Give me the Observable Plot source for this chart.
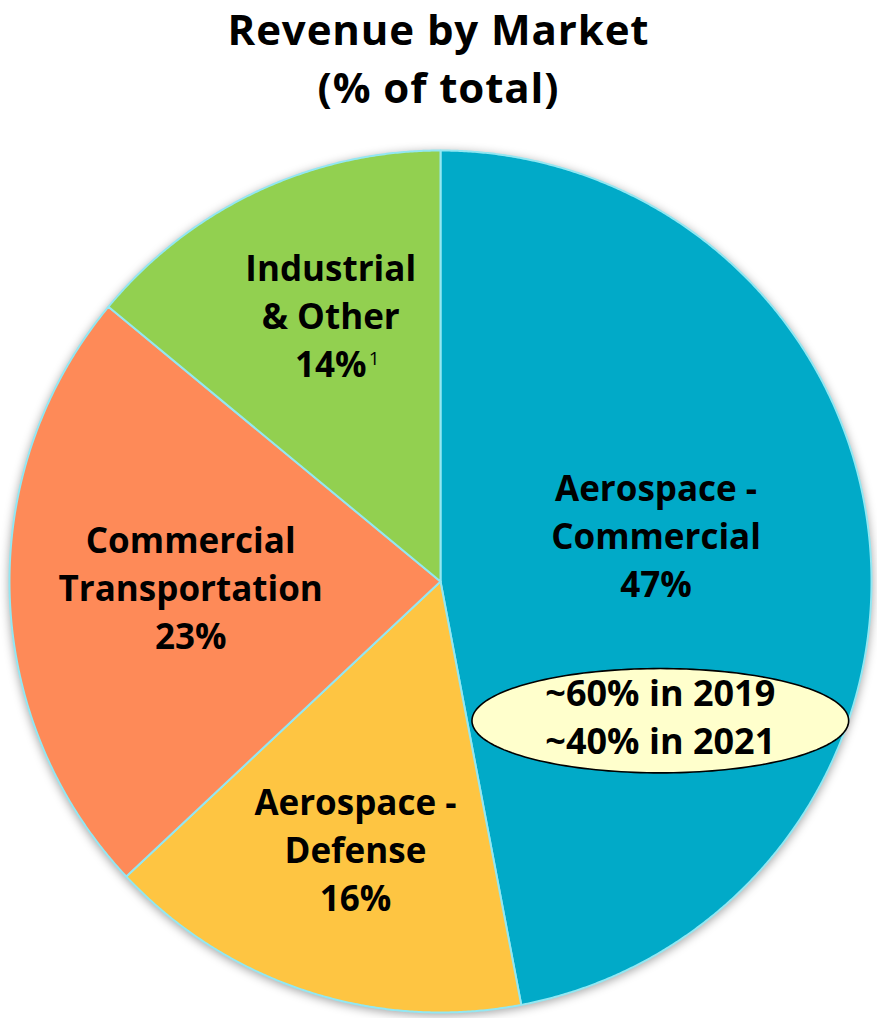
<!DOCTYPE html>
<html>
<head>
<meta charset="utf-8">
<script src="https://cdn.jsdelivr.net/npm/d3@7"></script>
<script src="https://cdn.jsdelivr.net/npm/@observablehq/plot@0.6"></script>
<style>
  html, body { margin: 0; padding: 0; background: #fff; }
  #wrap { width: 877px; height: 1018px; position: relative; font-family: "Open Sans", "Noto Sans", sans-serif; }
  #title { position: absolute; left: 0; top: 0; width: 877px; text-align: center; font-weight: 700; font-size: 42px; letter-spacing: 0.9px; line-height: 57.5px; color: #000; margin: 0; }
  #chart { position: absolute; left: 0; top: 140px; }
</style>
</head>
<body>
<div id="wrap">
  <div id="title">Revenue by Market<br>(% of total)</div>
  <div id="chart"></div>
</div>
<script>
// ---- data ----
const markets = ["Aerospace - Commercial", "Aerospace - Defense", "Commercial Transportation", "Industrial & Other"];
const shares = [47, 16, 23, 14];
const sliceLabels = ["Aerospace -\nCommercial\n47%", "Aerospace -\nDefense\n16%", "Commercial\nTransportation\n23%", "Industrial\n& Other\n14%"];
const footnoteMarks = ["", "", "", "1"];
const noteLines = ["~60% in 2019", "~40% in 2021"];
const sliceColors = ["#01AAC8", "#FEC542", "#FE8A58", "#92D050"];

// ---- layout (not data) ----
const W = 877, H = 878;
const CX = 440, CY = 441, R = 431;
const labelPlacement = [ {angle: 78.7, radius: 0.51}, {angle: 197.4, radius: 0.66}, {angle: 267.9, radius: 0.58}, {angle: 337.3, radius: 0.66} ];
const noteEllipse = {cx: 0.51, cy: -0.323, rx: 0.437, ry: 0.121};

const rows = markets.map((m, i) => ({market: m, share: shares[i], label: sliceLabels[i], mark: footnoteMarks[i]}));
const arcs = d3.pie().sort(null).value(d => d.share)(rows);

// polygon points for each slice, derived from pie angles
const slicePoints = [];
for (const a of arcs) {
  const n = Math.max(2, Math.ceil((a.endAngle - a.startAngle) / 0.005));
  slicePoints.push({market: a.data.market, x: 0, y: 0});
  for (let k = 0; k <= n; k++) {
    const t = a.startAngle + (a.endAngle - a.startAngle) * k / n;
    slicePoints.push({market: a.data.market, x: Math.sin(t), y: Math.cos(t)});
  }
  slicePoints.push({market: a.data.market, x: 0, y: 0});
}

const labelRows = arcs.map((a, i) => {
  const ang = labelPlacement[i].angle * Math.PI / 180;
  const rr = labelPlacement[i].radius;
  return {label: a.data.label, mark: a.data.mark, x: rr * Math.sin(ang), y: rr * Math.cos(ang)};
});

const ellipsePts = d3.range(0, 361, 2).map(deg => {
  const t = deg * Math.PI / 180;
  return {x: noteEllipse.cx + noteEllipse.rx * Math.cos(t), y: noteEllipse.cy + noteEllipse.ry * Math.sin(t)};
});

const fontFam = '"Open Sans", "Noto Sans", sans-serif';

const chart = Plot.plot({
  width: W, height: H,
  margin: 0,
  style: {background: "transparent", fontFamily: fontFam, overflow: "visible"},
  x: {domain: [-1, 1], range: [CX - R, CX + R], axis: null},
  y: {domain: [-1, 1], range: [CY + R, CY - R], axis: null},
  color: {domain: markets, range: sliceColors},
  marks: [
    Plot.line(slicePoints, {x: "x", y: "y", z: "market", fill: "market", stroke: "#93E7F2", strokeWidth: 2, strokeLinejoin: "round"}),
    Plot.line(ellipsePts, {x: "x", y: "y", fill: "#FFFFCC", stroke: "#000", strokeWidth: 1.6}),
    Plot.text(labelRows, {x: "x", y: "y", text: "label", fontSize: 35, fontWeight: 700, lineHeight: 1.37, dy: -5, fill: "#000"}),
    Plot.text(labelRows.filter(d => d.mark), {x: "x", y: "y", text: "mark", fontSize: 19, fontWeight: 400, dx: 38, dy: 40, textAnchor: "start", fill: "#000"}),
    Plot.text([noteLines.join("\n")], {x: () => noteEllipse.cx, y: () => noteEllipse.cy, text: d => d, fontSize: 36, fontWeight: 700, lineHeight: 1.33, dy: -6, fill: "#000"})
  ]
});

d3.select(chart).select('g[aria-label="line"]').style("filter", "drop-shadow(0px 2px 5px rgba(0,0,0,0.35))");
document.getElementById("chart").appendChild(chart);
</script>
</body>
</html>
